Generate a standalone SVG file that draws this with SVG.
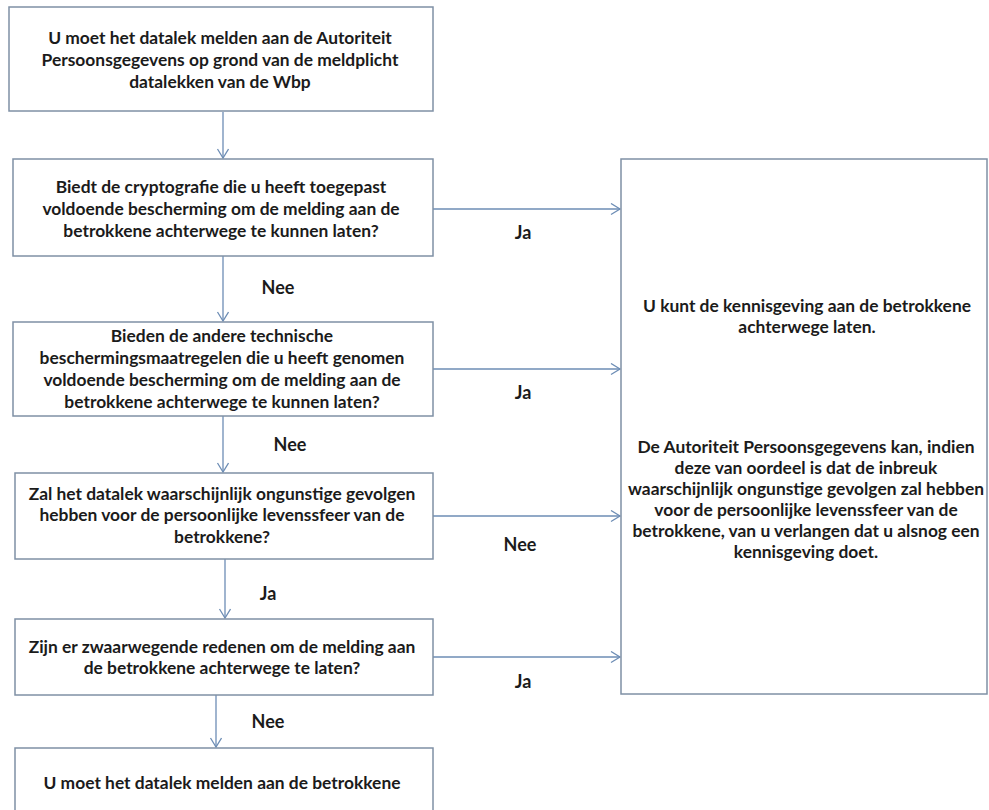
<svg xmlns="http://www.w3.org/2000/svg" width="989" height="810" viewBox="0 0 989 810">
<style>
.box{fill:#ffffff;stroke:#7f90a5;stroke-width:1.5}
.t{font-family:Lato,"Open Sans","Liberation Sans",sans-serif;font-weight:bold;font-size:17.4px;fill:#1b1b1b;text-anchor:middle}
.lbl{font-family:Lato,"Open Sans","Liberation Sans",sans-serif;font-weight:bold;font-size:18px;fill:#1b1b1b;text-anchor:middle}
.c{stroke:#6d8db5;stroke-width:1.3;fill:none;marker-end:url(#ah)}
</style>
<defs>
<marker id="ah" markerUnits="userSpaceOnUse" markerWidth="12" markerHeight="14" refX="10" refY="6" orient="auto">
<path d="M1,0.5 L10,6 L1,11.5" fill="none" stroke="#6d8db5" stroke-width="1.3"/>
</marker>
</defs>
<rect width="989" height="810" fill="#ffffff"/>
<g id="connectors">
<line class="c" x1="223" y1="112" x2="223" y2="158"/>
<line class="c" x1="223" y1="256" x2="223" y2="321"/>
<line class="c" x1="223" y1="416" x2="223" y2="472"/>
<line class="c" x1="225" y1="559" x2="225" y2="618"/>
<line class="c" x1="216" y1="695" x2="216" y2="747"/>
<line class="c" x1="433" y1="209" x2="620" y2="209"/>
<line class="c" x1="433" y1="369" x2="620" y2="369"/>
<line class="c" x1="433" y1="516" x2="620" y2="516"/>
<line class="c" x1="433" y1="657" x2="620" y2="657"/>
<text class="lbl" x="523" y="239">Ja</text>
<text class="lbl" x="278" y="294">Nee</text>
<text class="lbl" x="523" y="399">Ja</text>
<text class="lbl" x="290" y="451">Nee</text>
<text class="lbl" x="520" y="551">Nee</text>
<text class="lbl" x="268" y="600">Ja</text>
<text class="lbl" x="523" y="688">Ja</text>
<text class="lbl" x="268" y="728">Nee</text>
</g>
<g id="n1">
<rect class="box" x="9" y="7" width="424" height="104"/>
<text class="t" x="220" y="44">U moet het datalek melden aan de Autoriteit</text>
<text class="t" x="220" y="66">Persoonsgegevens op grond van de meldplicht</text>
<text class="t" x="220" y="88">datalekken van de Wbp</text>
</g>
<g id="n2">
<rect class="box" x="13" y="159" width="420" height="97"/>
<text class="t" x="221" y="193">Biedt de cryptografie die u heeft toegepast</text>
<text class="t" x="221" y="215">voldoende bescherming om de melding aan de</text>
<text class="t" x="221" y="237">betrokkene achterwege te kunnen laten?</text>
</g>
<g id="n3">
<rect class="box" x="13" y="322" width="420" height="94"/>
<text class="t" x="222" y="342">Bieden de andere technische</text>
<text class="t" x="222" y="364">beschermingsmaatregelen die u heeft genomen</text>
<text class="t" x="222" y="386">voldoende bescherming om de melding aan de</text>
<text class="t" x="222" y="408">betrokkene achterwege te kunnen laten?</text>
</g>
<g id="n4">
<rect class="box" x="15" y="473" width="418" height="86"/>
<text class="t" x="222" y="500">Zal het datalek waarschijnlijk ongunstige gevolgen</text>
<text class="t" x="222" y="521">hebben voor de persoonlijke levenssfeer van de</text>
<text class="t" x="222" y="543">betrokkene?</text>
</g>
<g id="n5">
<rect class="box" x="15" y="619" width="418" height="76"/>
<text class="t" x="222" y="653">Zijn er zwaarwegende redenen om de melding aan</text>
<text class="t" x="222" y="674">de betrokkene achterwege te laten?</text>
</g>
<g id="n6">
<rect class="box" x="15" y="748" width="418" height="70"/>
<text class="t" x="222" y="789">U moet het datalek melden aan de betrokkene</text>
</g>
<g id="n7">
<rect class="box" x="621" y="159" width="366" height="535"/>
<text class="t" x="807" y="312">U kunt de kennisgeving aan de betrokkene</text>
<text class="t" x="807" y="333">achterwege laten.</text>
<text class="t" x="806" y="453">De Autoriteit Persoonsgegevens kan, indien</text>
<text class="t" x="806" y="474">deze van oordeel is dat de inbreuk</text>
<text class="t" x="806" y="495">waarschijnlijk ongunstige gevolgen zal hebben</text>
<text class="t" x="806" y="516">voor de persoonlijke levenssfeer van de</text>
<text class="t" x="806" y="537">betrokkene, van u verlangen dat u alsnog een</text>
<text class="t" x="806" y="558">kennisgeving doet.</text>
</g>
</svg>
